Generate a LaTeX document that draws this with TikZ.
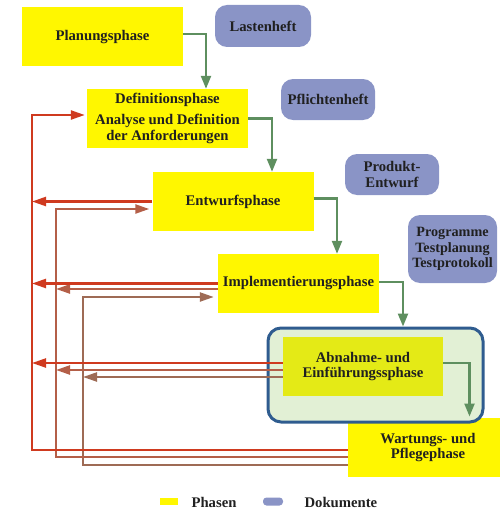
\documentclass[tikz,border=0pt]{standalone}
\usepackage{fontspec}
\setmainfont{Liberation Serif}
\usetikzlibrary{arrows.meta,calc}

\definecolor{phaseyellow}{HTML}{FFF700}
\definecolor{acceptyellow}{HTML}{E4EA16}
\definecolor{acceptbg}{HTML}{E2F0D5}
\definecolor{acceptframe}{HTML}{2F5C8F}
\definecolor{docblue}{HTML}{8A94C6}
\definecolor{flowgreen}{HTML}{5E8F5F}
\definecolor{backred}{HTML}{CF3A1F}
\definecolor{backbrown}{HTML}{B45F48}
\definecolor{backdark}{HTML}{9E6B55}
\definecolor{inktext}{HTML}{202020}

\tikzset{
  txt/.style={font=\fontsize{14.7}{15.8}\selectfont\bfseries, text=inktext, align=center},
  phasebox/.style={txt, fill=phaseyellow, inner sep=0pt, minimum width=161pt, minimum height=59pt},
  docbox/.style={txt, fill=docblue, rounded corners=12pt, inner sep=0pt},
  flow/.style={draw=flowgreen, line width=2.3pt, -{Triangle[length=13pt,width=10pt]}},
  back/.style={line width=2.3pt, -{Triangle[length=14pt,width=9pt]}},
  backR/.style={back, draw=backred, color=backred},
  backB/.style={back, draw=backbrown, color=backbrown},
  backD/.style={back, draw=backdark, color=backdark},
}

\begin{document}
\begin{tikzpicture}[x=1pt,y=-1pt]
\useasboundingbox (0,0) rectangle (499,511);

% documents
\node[docbox, minimum width=96pt, minimum height=42pt] (last) at (263,26) {Lastenheft};
\node[docbox, minimum width=94pt, minimum height=41pt] (pfl) at (328,99.5) {Pflichtenheft};
\node[docbox, minimum width=94pt, minimum height=41pt] (prod) at (392,174.5) {Produkt-\\Entwurf};
\node[docbox, minimum width=89pt, minimum height=68pt,
      font=\fontsize{14.2}{15.5}\selectfont\bfseries] (prog) at (452.5,249) {Programme\\Testplanung\\Testprotokoll};

% phases
\node[phasebox] (plan) at (102.5,37) {Planungsphase};
\node[phasebox] (def) at (167.5,118.5) {Definitionsphase\\[5pt]Analyse und Definition\\der Anforderungen};
\node[phasebox] (entw) at (233,201.5) {Entwurfsphase};
\node[phasebox] (impl) at (298.5,283.5) {Implementierungsphase};
\node[phasebox, minimum width=160pt] (wart) at (428,447.5) {Wartungs- und\\Pflegephase};

% acceptance phase inside its frame
\node[draw=acceptframe, fill=acceptbg, line width=3pt, rounded corners=13pt,
      minimum width=215pt, minimum height=94pt, inner sep=0pt] (abnout) at (375.5,375) {};
\node[phasebox, fill=acceptyellow, minimum width=160pt] (abn) at (363,366.5) {Abnahme- und\\Einführungssphase};

% forward flow
\draw[flow] ([yshift=3pt]plan.east) -| ([xshift=38.5pt]def.north);
\draw[flow] (def.east) -| ([xshift=39pt]entw.north);
\draw[flow] ([yshift=3pt]entw.east) -| ([xshift=38.5pt]impl.north);
\draw[flow] ([yshift=1.5pt]impl.east) -| ([xshift=27.5pt]abnout.north);
\coordinate (abnend) at ([xshift=-15pt,yshift=7pt]abnout.south east);
\draw[flow] ([yshift=3.5pt]abn.east) -| (abnend);

% return paths
\coordinate (rtop) at (32,115);
\coordinate (btop) at (56,209);
\coordinate (dtop) at (83,297);

\draw[backD, shorten >=4pt] ([yshift=-17.5pt]wart.west) -| (dtop) -- ([yshift=-13.5pt]impl.west);
\draw[backD] ([yshift=-10.5pt]abn.west) -- ([yshift=-10.5pt]abn.west -| dtop);

\draw[backB, shorten >=3pt] ([yshift=-9.5pt]wart.west) -| (btop) -- ([yshift=-7.5pt]entw.west);
\draw[backB] ([yshift=-5.5pt]impl.west) -- ([yshift=-5.5pt]impl.west -| btop);
\draw[backB] ([yshift=-3.5pt]abn.west) -- ([yshift=-3.5pt]abn.west -| btop);

\draw[backR, shorten >=2pt] ([yshift=-2.5pt]wart.west) -| (rtop) -- ([yshift=3.5pt]def.west);
\draw[backR] (entw.west) -- (entw.west -| rtop);
\draw[backR] (impl.west) -- (impl.west -| rtop);
\draw[backR] ([yshift=3.5pt]abn.west) -- ([yshift=3.5pt]abn.west -| rtop);

% legend
\node[fill=phaseyellow, minimum width=18pt, minimum height=7pt, inner sep=0pt] (keyphase) at (169,501) {};
\node[txt, anchor=west] (keyphasetxt) at (188,502) {Phasen};
\node[fill=docblue, rounded corners=3.5pt, minimum width=20pt, minimum height=8pt, inner sep=0pt] (keydoc) at (273,501.5) {};
\node[txt, anchor=west] (keydoctxt) at (301,502) {Dokumente};
\end{tikzpicture}
\end{document}
